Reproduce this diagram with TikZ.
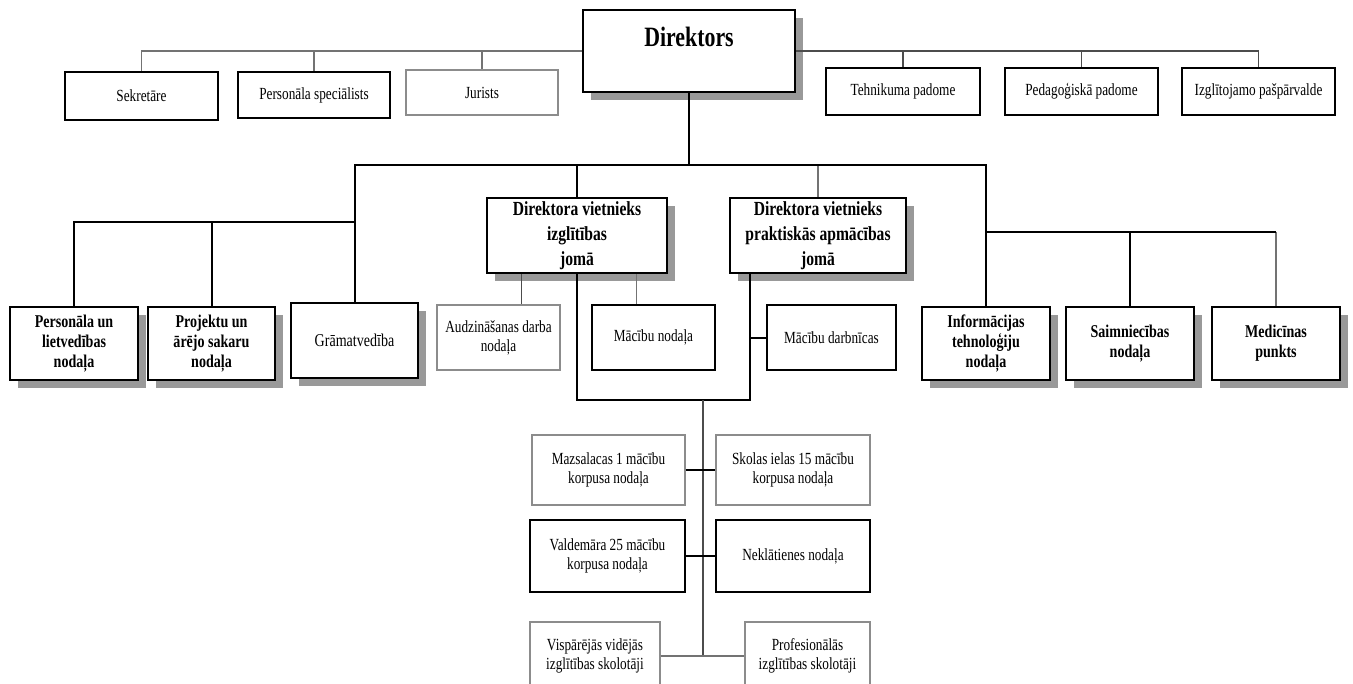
\documentclass[tikz,border=0pt]{standalone}
\usepackage{fontspec}
\setmainfont{Liberation Serif}[FakeStretch=0.78]
\usetikzlibrary{shadows,calc}
\tikzset{
  bx/.style 2 args={minimum width=#1*0.5pt, minimum height=#2*0.5pt},
  box/.style={draw=black, line width=1pt, fill=white, align=center, inner sep=1pt, font=\fontsize{8.5}{9.5}\selectfont},
  lbox/.style={box, draw=black!45, line width=0.6pt},
  shd/.style={drop shadow={shadow xshift=4pt, shadow yshift=-4pt, fill=black!40, opacity=1}},
  bigtxt/.style={font=\fontsize{9}{10}\bfseries\selectfont},
  dvtxt/.style={font=\fontsize{10}{12.5}\bfseries\selectfont},
  line/.style={draw=black, line width=1pt},
  gline/.style={draw=black!55, line width=0.6pt},
  mline/.style={draw=black!70, line width=0.8pt}
}
\begin{document}
\begin{tikzpicture}[x=0.5pt,y=-0.5pt]
\useasboundingbox[fill=white] (0,0) rectangle (1353,684);
% top
\node[box,shd,bx={212}{82},font=\fontsize{14}{16}\bfseries\selectfont,text height=9pt,text depth=13pt] (dir) at (689,51) {Direktors};
\node[box,bx={153}{48}] (sek) at (141.5,96) {Sekretāre};
\node[box,bx={152}{46}] (pers) at (314,95) {Personāla speciālists};
\node[lbox,bx={152}{45}] (jur) at (482,92.5) {Jurists};
\node[box,bx={154}{47}] (teh) at (903,91.5) {Tehnikuma padome};
\node[box,bx={153}{47}] (ped) at (1081.5,91.5) {Pedagoģiskā padome};
\node[box,bx={153}{47}] (izp) at (1258.5,91.5) {Izglītojamo pašpārvalde};
\draw[gline] (dir.west) -| (sek.north);
\draw[gline] (dir.west) -| (pers.north);
\draw[gline] (dir.west) -| (jur.north);
\draw[mline] (dir.east) -| (teh.north);
\draw[mline] (dir.east) -| (ped.north);
\draw[mline] (dir.east) -| (izp.north);
% second level
\node[box,shd,bx={128}{73},bigtxt] (pl) at (74,343.5) {Personāla un\\lietvedības\\nodaļa};
\node[box,shd,bx={127}{73},bigtxt] (pr) at (211.5,343.5) {Projektu un\\ārējo sakaru\\nodaļa};
\node[box,shd,bx={127}{75},font=\fontsize{9}{10}\selectfont] (gram) at (354.5,340.5) {Grāmatvedība};
\node[box,shd,bx={180}{75},dvtxt] (dvi) at (577,235.5) {Direktora vietnieks\\izglītības\\jomā};
\node[box,shd,bx={176}{75},dvtxt] (dvp) at (818,235.5) {Direktora vietnieks\\praktiskās apmācības\\jomā};
\node[lbox,bx={123}{65}] (aud) at (498.5,337.5) {Audzināšanas darba\\nodaļa};
\node[box,bx={123}{65}] (mac) at (653.5,337.5) {Mācību nodaļa};
\node[box,bx={129}{65}] (darb) at (831.5,337.5) {Mācību darbnīcas};
\node[box,shd,bx={128}{73},bigtxt] (it) at (986,343.5) {Informācijas\\tehnoloģiju\\nodaļa};
\node[box,shd,bx={128}{73},bigtxt] (saim) at (1130,343.5) {Saimniecības\\nodaļa};
\node[box,shd,bx={128}{73},bigtxt] (med) at (1276,343.5) {Medicīnas\\punkts};
\coordinate (j1) at (689,165);
\coordinate (j2) at (354.5,222);
\coordinate (j3) at (986,232);
\draw[line] (dir.south) -- (j1);
\draw[gline] (j1 -| dvp.north) -- (dvp.north);
\draw[gline] (j3 -| med.north) -- (med.north);
\draw[line] (j1) -| (gram.north);
\draw[line] (j1) -| (it.north);
\draw[line] (j1) -| (dvi.north);
\draw[line] (j2) -| (pl.north);
\draw[line] (j2) -| (pr.north);
\draw[line] (j3) -| (saim.north);
\draw[line] (j3) -- (j3 -| med.north);
\coordinate (audc) at ([xshift=11.5pt]aud.north);
\coordinate (macc) at ([xshift=-8.5pt]mac.north);
\coordinate (dvpl) at ([xshift=-34pt]dvp.south);
\coordinate (hub) at (703,400);
\draw[mline] (audc) -- (audc |- dvi.south);
\draw[gline] (macc) -- (macc |- dvi.south);
\draw[line] (dvi.south) -- (dvi.south |- hub) -- (dvpl |- hub) -- (dvpl);
\draw[line] (darb.west) -- (darb.west -| dvpl);
% lower
\node[lbox,bx={153}{70}] (maz) at (608.5,470) {Mazsalacas 1 mācību\\korpusa nodaļa};
\node[lbox,bx={154}{70}] (sko) at (793,470) {Skolas ielas 15 mācību\\korpusa nodaļa};
\node[box,bx={155}{72}] (val) at (607.5,556) {Valdemāra 25 mācību\\korpusa nodaļa};
\node[box,bx={154}{72}] (nek) at (793,556) {Neklātienes nodaļa};
\node[lbox,bx={130}{68}] (vis) at (595,656) {Vispārējās vidējās\\izglītības skolotāji};
\node[lbox,bx={125}{68}] (pro) at (807.5,656) {Profesionālās\\izglītības skolotāji};
\coordinate (hubend) at (703,656);
\draw[mline] (hub) -- (hubend);
\draw[line] (maz.east) -- (maz.east -| hub) -- (sko.west);
\draw[line] (val.east) -- (val.east -| hub) -- (nek.west);
\draw[gline] (vis.east) -- (hubend) -- (pro.west);
\end{tikzpicture}
\end{document}
